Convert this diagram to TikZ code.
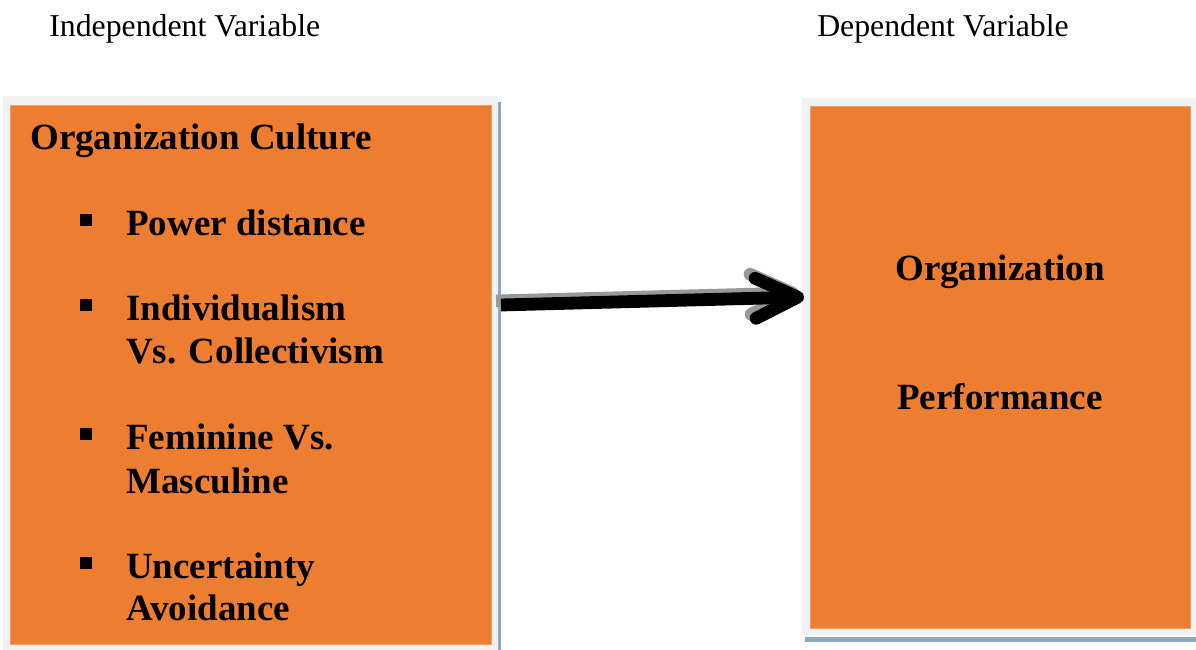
\documentclass[tikz,border=0pt]{standalone}
\usepackage{fontspec}
\setmainfont{Liberation Serif}
\usetikzlibrary{arrows.meta}

\definecolor{boxorange}{HTML}{ED7D31}
\definecolor{framegray}{HTML}{F2F2F2}
\definecolor{edgeblue}{HTML}{8EA6BE}
\definecolor{shadowgray}{HTML}{999999}

\tikzset{
  varlabel/.style={anchor=base west, inner sep=0pt, font=\fontsize{22.6}{27}\selectfont},
  boxtext/.style={anchor=base west, inner sep=0pt, font=\fontsize{26.3}{31}\selectfont\bfseries},
  bulletmark/.style={fill=black, inner sep=0pt, minimum size=0.28cm},
  varbox/.style={fill=boxorange, draw=boxorange!75!white, line width=0.4pt, inner sep=0pt},
  flowarrow/.style={line width=0.32cm, -{Straight Barb[length=1.05cm, width=1.0cm, round]}}
}

\begin{document}
\begin{tikzpicture}[x=0.025cm, y=-0.025cm]
  \useasboundingbox (0,0) rectangle (1196,650);

  % headings
  \node[varlabel] (indep) at (49,37) {Independent Variable};
  \node[varlabel] (dep) at (817,37) {Dependent Variable};

  % left box
  \fill[framegray] (3,96) rectangle (498,650);
  \fill[edgeblue] (497.5,102) rectangle (501,650);
  \node[varbox, minimum width=12.025cm, minimum height=13.475cm] (culture) at (250.5,374.5) {};

  % right box
  \fill[framegray] (802,98) rectangle (1196,635);
  \fill[edgeblue] (805,637) rectangle (1196,642);
  \node[varbox, minimum width=9.5cm, minimum height=13.05cm] (perf) at (1000,367) {};

  % texts in the left box
  \node[boxtext] (title) at (30,149) {Organization Culture};
  \foreach \yy/\txt [count=\i] in {235/Power distance, 320/Individualism, 363/Vs. Collectivism,
      449/Feminine Vs., 493/Masculine, 578/Uncertainty, 620/Avoidance}
    \node[boxtext] (item\i) at (126,\yy) {\txt};
  \foreach \yy [count=\i] in {220,305,434,563}
    \node[bulletmark] (bullet\i) at (86,\yy) {};

  % texts in the right box
  \node[boxtext, anchor=base] (perf1) at (1000,280) {Organization};
  \node[boxtext, anchor=base] (perf2) at (1000,409) {Performance};

  % arrow with its shadow
  \coordinate (tail) at (501,305);
  \coordinate (tip) at (804,297);
  \draw[flowarrow, shadowgray] ([shift={(-5,-4)}]tail) -- ([shift={(-5,-4)}]tip);
  \draw[flowarrow, black] (tail) -- (tip);
\end{tikzpicture}
\end{document}
